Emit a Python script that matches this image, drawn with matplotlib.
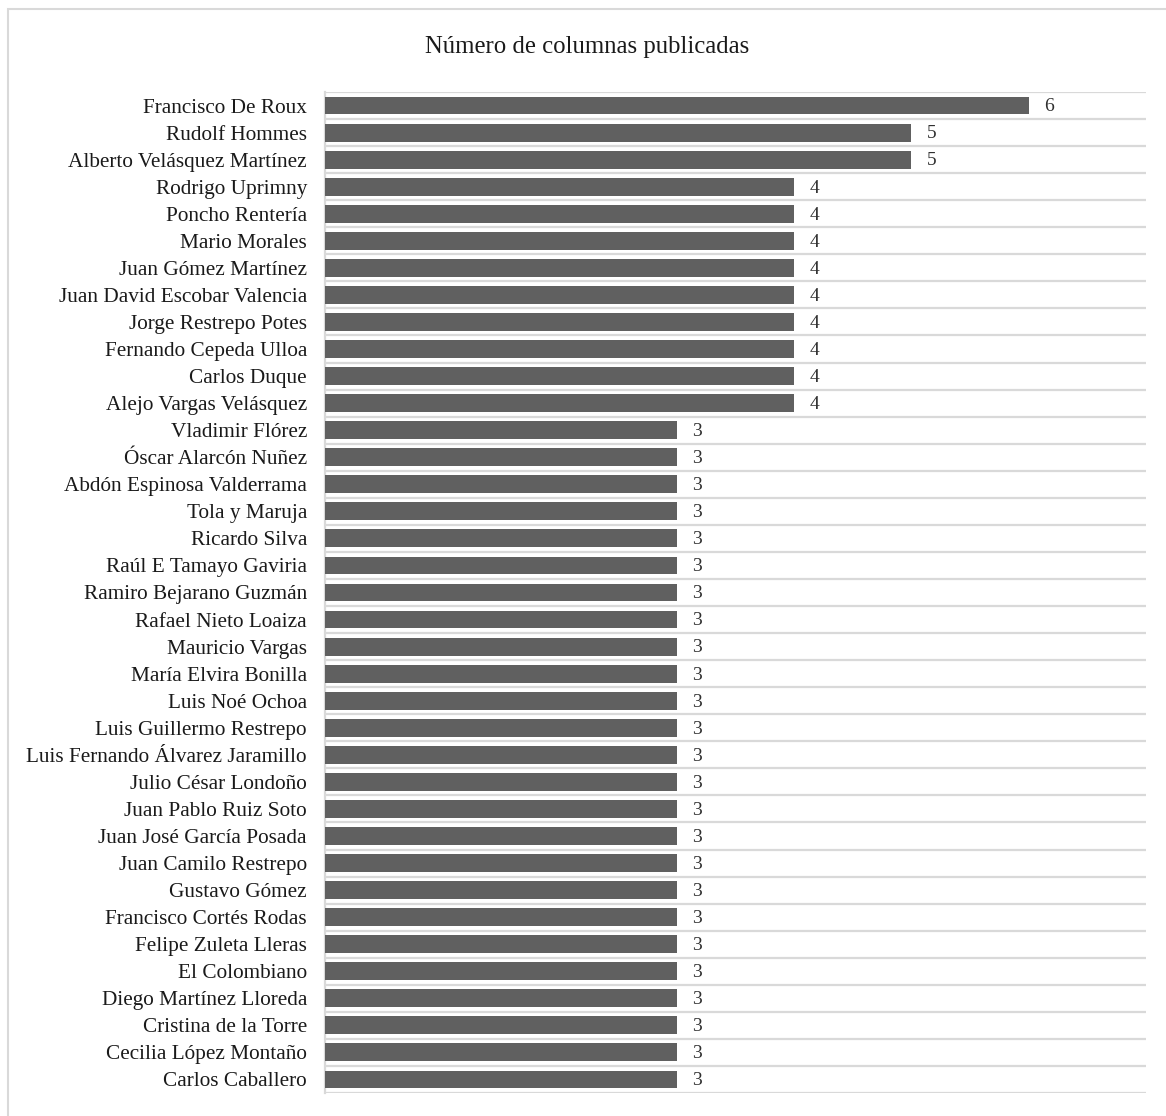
import matplotlib.pyplot as plt
from matplotlib.patches import Rectangle

plt.rcParams['font.family'] = ['Liberation Serif', 'DejaVu Serif']

# Columnistas y número de columnas publicadas
autores = [
    "Francisco De Roux", "Rudolf Hommes", "Alberto Velásquez Martínez",
    "Rodrigo Uprimny", "Poncho Rentería", "Mario Morales", "Juan Gómez Martínez",
    "Juan David Escobar Valencia", "Jorge Restrepo Potes", "Fernando Cepeda Ulloa",
    "Carlos Duque", "Alejo Vargas Velásquez", "Vladimir Flórez",
    "Óscar Alarcón Nuñez", "Abdón Espinosa Valderrama", "Tola y Maruja",
    "Ricardo Silva", "Raúl E Tamayo Gaviria", "Ramiro Bejarano Guzmán",
    "Rafael Nieto Loaiza", "Mauricio Vargas", "María Elvira Bonilla",
    "Luis Noé Ochoa", "Luis Guillermo Restrepo", "Luis Fernando Álvarez Jaramillo",
    "Julio César Londoño", "Juan Pablo Ruiz Soto", "Juan José García Posada",
    "Juan Camilo Restrepo", "Gustavo Gómez", "Francisco Cortés Rodas",
    "Felipe Zuleta Lleras", "El Colombiano", "Diego Martínez Lloreda",
    "Cristina de la Torre", "Cecilia López Montaño", "Carlos Caballero",
]
columnas = [6, 5, 5, 4, 4, 4, 4, 4, 4, 4, 4, 4] + [3] * 25

W, H = 1166, 1116
fig = plt.figure(figsize=(W / 100, H / 100), dpi=100)
ax = fig.add_axes([325 / W, 23 / H, 821 / W, 1001 / H])

n = len(autores)
pos = list(range(n))
ax.barh(pos, columnas, height=0.66, color='#606060', zorder=3)

# lineas horizontales entre categorias
for i in range(n + 1):
    ax.axhline(i - 0.5, color='#d9d9d9', lw=1.6, zorder=1)

for p, v in zip(pos, columnas):
    ax.text(v + 0.13, p + 0.05, str(v), va='center', ha='left',
            fontsize=14, color='#303030')

ax.set_xlim(0, 7)
ax.set_ylim(n - 0.5, -0.5)
ax.set_yticks(pos)
ax.set_yticklabels(autores, fontsize=15.3, color='#1a1a1a')
ax.tick_params(axis='y', length=0, pad=13)
ax.set_xticks([])
for s in ['top', 'right', 'bottom']:
    ax.spines[s].set_visible(False)
ax.spines['left'].set_color('#d9d9d9')
ax.spines['left'].set_linewidth(1.6)

fig.text(587 / W, 1 - 53 / H, "Número de columnas publicadas",
         ha='center', va='baseline', fontsize=17.8, color='#1a1a1a')

# marco exterior (solo se ven los bordes superior e izquierdo)
fig.patches.append(Rectangle((8 / W, -10 / H), 1200 / W, 1117 / H,
                             transform=fig.transFigure, fill=False,
                             edgecolor='#d9d9d9', lw=1.5))

fig.savefig('out.png', dpi=100)
